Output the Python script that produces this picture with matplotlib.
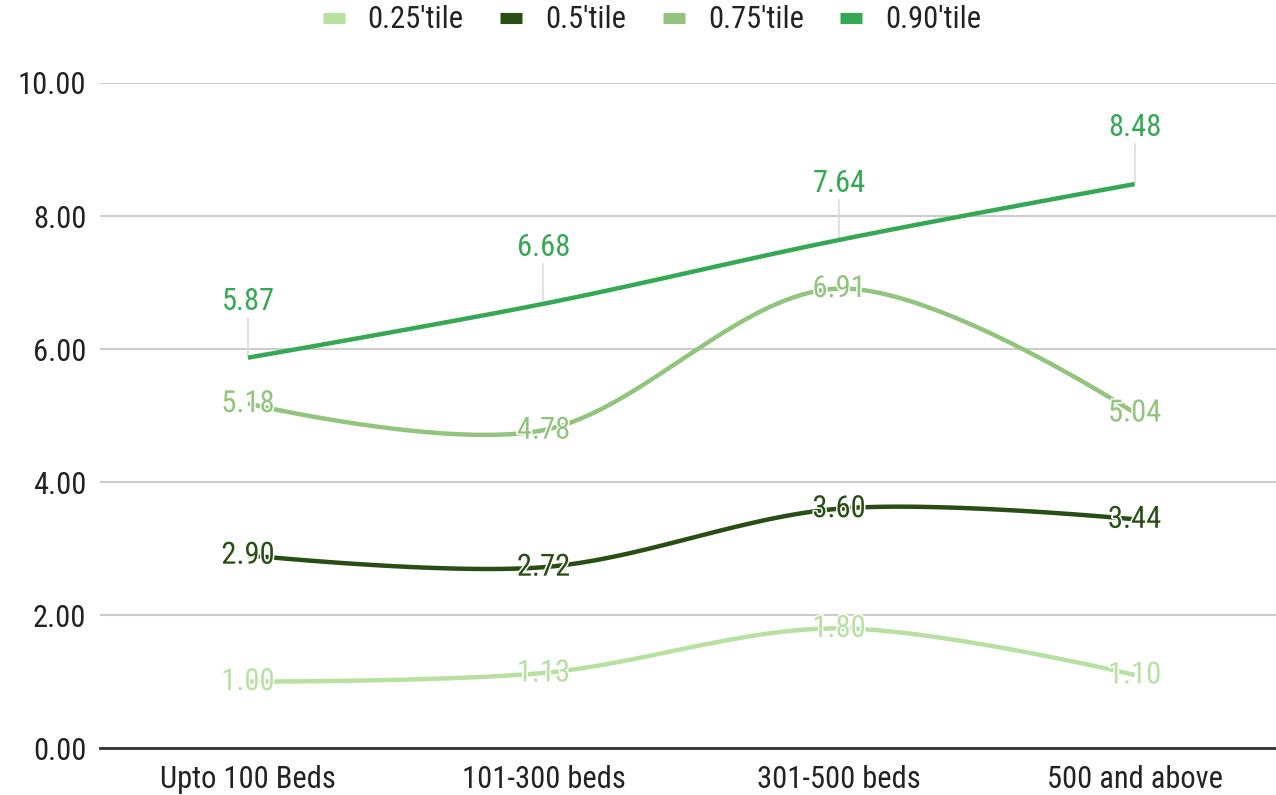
import numpy as np
import matplotlib
matplotlib.use("Agg")
import matplotlib.pyplot as plt
import matplotlib.patheffects as pe
from matplotlib.lines import Line2D

plt.rcParams['font.family'] = ['Roboto Condensed', 'Roboto', 'DejaVu Sans']

categories = ["Upto 100 Beds", "101-300 beds", "301-500 beds", "500 and above"]
series_names = ["0.25'tile", "0.5'tile", "0.75'tile", "0.90'tile"]
p25 = [1.00, 1.13, 1.80, 1.10]
p50 = [2.90, 2.72, 3.60, 3.44]
p75 = [5.18, 4.78, 6.91, 5.04]
p90 = [5.87, 6.68, 7.64, 8.48]
colors = ["#b7e1a1", "#274e13", "#93c47d", "#34a853"]
yticks = [0, 2, 4, 6, 8, 10]


def smooth(xs, ys, s=1/6, n=40):
    pts = np.column_stack([xs, ys]).astype(float)
    out = []
    m = len(pts)
    for i in range(m - 1):
        p0, p1 = pts[i], pts[i + 1]
        c1 = p0 if i == 0 else p0 + s * (pts[i + 1] - pts[i - 1])
        c2 = p1 if i == m - 2 else p1 - s * (pts[i + 2] - pts[i])
        t = np.linspace(0, 1, n)[:, None]
        b = ((1 - t) ** 3) * p0 + 3 * ((1 - t) ** 2) * t * c1 + 3 * (1 - t) * t ** 2 * c2 + t ** 3 * p1
        out.append(b if i == 0 else b[1:])
    out = np.vstack(out)
    return out[:, 0], out[:, 1]


fig = plt.figure(figsize=(12.76, 7.95), dpi=100)
ax = fig.add_axes([0.0785, 0.059, 0.9265, 0.8366])
x = np.arange(len(categories))
data = [p25, p50, p75, p90]

for vals, col in zip(data, colors):
    sx, sy = smooth(x, vals)
    ax.plot(sx, sy, color=col, lw=3.2, solid_capstyle='butt', zorder=3)

halo = [pe.withStroke(linewidth=2.2, foreground='white')]
for k, (vals, col) in enumerate(zip(data, colors)):
    for xi, v in zip(x, vals):
        if k == 3:
            ax.plot([xi, xi], [v + 0.02, v + 0.6], color='#dddddd', lw=1.2, zorder=2)
            ax.text(xi, v + 0.85, f"{v:.2f}", color=col, ha='center', va='center',
                    fontsize=22, zorder=4)
        else:
            ax.text(xi, v, f"{v:.2f}", color=col, ha='center', va='center',
                    fontsize=22, zorder=4, path_effects=halo)

ax.set_xlim(-0.5, 3.5)
ax.set_ylim(0, 10)
ax.set_yticks(yticks)
ax.set_yticklabels([f"{t:.2f}" for t in yticks])
ax.set_xticks(x)
ax.set_xticklabels(categories)
ax.tick_params(axis='both', length=0, labelsize=22, colors='#222222')
ax.tick_params(axis='x', pad=12)
ax.tick_params(axis='y', pad=10)
ax.grid(axis='y', color='#cccccc', lw=1.5, zorder=0)
ax.set_axisbelow(True)
for sp in ['top', 'right', 'left']:
    ax.spines[sp].set_visible(False)
ax.spines['bottom'].set_color('#333333')
ax.spines['bottom'].set_linewidth(2)

handles = [Line2D([0], [0], color=c, lw=8, solid_capstyle='butt') for c in colors]
fig.legend(handles, series_names, loc='upper center', bbox_to_anchor=(0.511, 1.028),
           ncol=4, frameon=False, fontsize=22, handlelength=0.72, handletextpad=0.75,
           columnspacing=1.2, labelcolor='#222222')

fig.savefig("out.png", dpi=100)
